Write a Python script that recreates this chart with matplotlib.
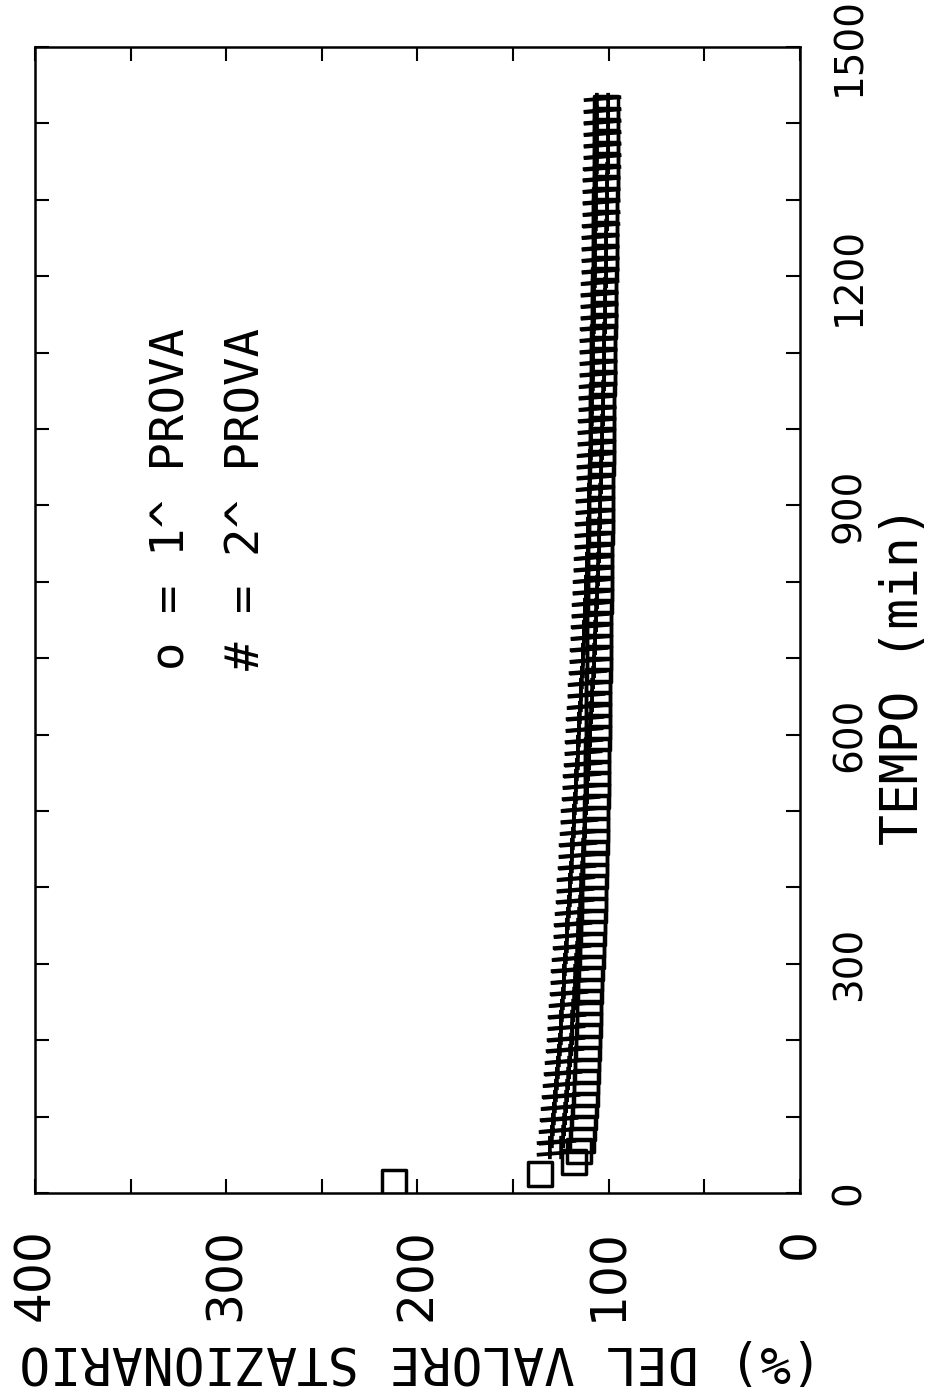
import matplotlib
matplotlib.use("Agg")
import matplotlib.pyplot as plt
from matplotlib.markers import MarkerStyle
from matplotlib.path import Path
from matplotlib.ticker import MultipleLocator

plt.rcParams['font.family'] = ['DejaVu Sans Mono']

# 1^ prova (o): time in min, value in % of steady state
o_time = [15, 25, 40] + list(range(55, 1421, 15))
o_val = [212.0, 136.0, 118.0,
         115.5, 114.0, 113.2, 112.6, 112.2, 111.9, 111.6, 111.3, 111.1, 110.9,
         110.7, 110.5, 110.3, 110.1, 109.8, 109.5, 109.2, 108.9, 108.6, 108.3,
         108.0, 107.8, 107.6, 107.4, 107.2, 107.0, 106.9, 106.7, 106.6, 106.5,
         106.4, 106.3, 106.2, 106.1, 106.0, 105.9, 105.8, 105.7, 105.6, 105.5,
         105.4, 105.3, 105.2, 105.1, 105.0, 104.9, 104.8, 104.8, 104.7, 104.6,
         104.5, 104.4, 104.3, 104.3, 104.2, 104.1, 104.0, 103.9, 103.9, 103.8,
         103.7, 103.6, 103.5, 103.5, 103.4, 103.3, 103.2, 103.1, 103.0, 102.9,
         102.8, 102.7, 102.6, 102.5, 102.4, 102.3, 102.2, 102.1, 102.0, 101.9,
         101.9, 101.8, 101.7, 101.7, 101.6, 101.5, 101.5, 101.4, 101.3, 101.3,
         101.2, 101.2]

# 2^ prova (#)
h_time = list(range(60, 1426, 15))
h_val = [128.0, 127.2, 126.5, 125.8, 125.2, 124.7, 124.2, 123.8, 123.3, 122.9,
         122.5, 122.1, 121.7, 121.3, 120.9, 120.5, 120.1, 119.7, 119.3, 118.9,
         118.5, 118.2, 117.8, 117.4, 117.1, 116.7, 116.4, 116.0, 115.7, 115.3,
         115.0, 114.6, 114.3, 113.9, 113.6, 113.2, 112.9, 112.6, 112.2, 111.9,
         111.6, 111.3, 111.0, 110.7, 110.4, 110.1, 109.9, 109.6, 109.4, 109.1,
         108.9, 108.6, 108.4, 108.2, 108.0, 107.8, 107.6, 107.4, 107.2, 107.0,
         106.9, 106.7, 106.5, 106.4, 106.2, 106.1, 105.9, 105.8, 105.7, 105.5,
         105.4, 105.3, 105.2, 105.0, 104.9, 104.8, 104.7, 104.6, 104.5, 104.4,
         104.3, 104.2, 104.1, 104.0, 103.9, 103.8, 103.7, 103.6, 103.5, 103.4,
         103.3, 103.2]

value_ticks = [0, 100, 200, 300, 400]
time_ticks = [0, 300, 600, 900, 1200, 1500]

fig = plt.figure(figsize=(9.3, 13.89), dpi=100)
# page is scanned turned by 90 deg: time runs upward, values run right to left
ax = fig.add_axes([0.0376, 0.1411, 0.8224, 0.8251])

# plotter "#" glyph, already turned like the rest of the page
hash_verts = [(-1, 0.23), (1, 0.39), (-1, -0.39), (1, -0.23),
              (-0.3, -0.62), (-0.3, 0.62), (0.3, -0.62), (0.3, 0.62)]
hash_codes = [Path.MOVETO, Path.LINETO] * 4
hash_marker = MarkerStyle(Path(hash_verts, hash_codes))
sq_marker = MarkerStyle('s', fillstyle='none', joinstyle='round')

ax.plot(h_val, h_time, ls='none', marker=hash_marker, ms=27,
        mec='black', mfc='none', mew=2.7)
ax.plot(o_val, o_time, ls='none', marker=sq_marker, ms=17,
        mec='black', mew=2.5)

ax.set_xlim(400, 0)
ax.set_ylim(0, 1500)
ax.set_xticks(value_ticks)
ax.xaxis.set_minor_locator(MultipleLocator(50))
ax.set_yticks(time_ticks)
ax.yaxis.set_minor_locator(MultipleLocator(100))
ax.tick_params(which='both', direction='in', length=10, width=1.5,
               top=True, bottom=True, left=True, right=True,
               labelleft=False, labelright=True)
ax.tick_params(axis='x', labelsize=35, pad=25, labelrotation=90)
ax.tick_params(axis='y', labelsize=28, pad=22, labelrotation=90)
# plain zeros for the numbers
for lab in ax.get_xticklabels():
    lab.set_family('DejaVu Sans')
for lab in ax.get_yticklabels():
    lab.set_family('DejaVu Sans')
    lab.set_va('center')
for sp in ax.spines.values():
    sp.set_linewidth(1.8)

fig.text(0.972, 0.514, 'TEMPO (min)', rotation=90, fontsize=37,
         ha='center', va='center')
fig.text(0.884, 0.0209, '(%) DEL VALORE STAZIONARIO', rotation=180,
         fontsize=37, ha='right', va='center')

fig.text(0.185, 0.5176, 'o = 1^ PROVA', rotation=90, fontsize=34,
         ha='center', va='bottom')
fig.text(0.2656, 0.5176, '# = 2^ PROVA', rotation=90, fontsize=34,
         ha='center', va='bottom')

fig.savefig('out.png', dpi=100)
